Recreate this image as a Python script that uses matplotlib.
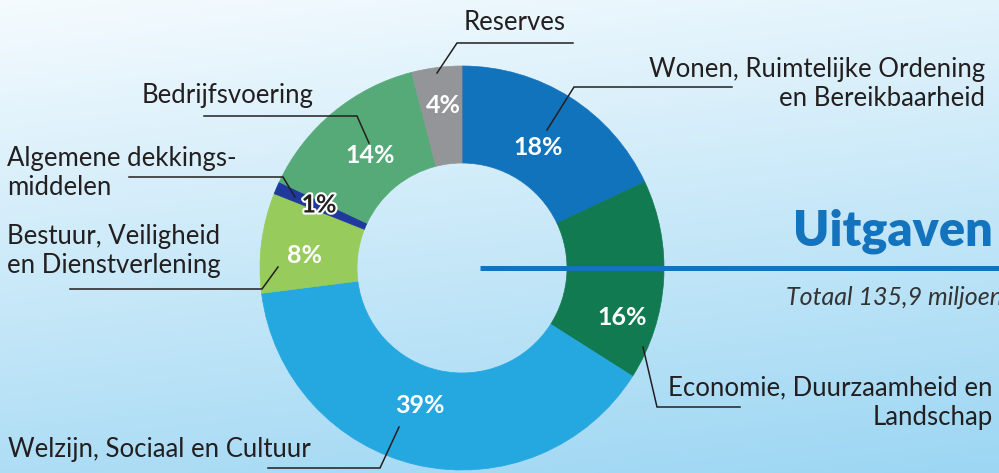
import numpy as np
import matplotlib.pyplot as plt
from matplotlib import patheffects as pe

# data
categories = ["Wonen, Ruimtelijke Ordening\nen Bereikbaarheid",
              "Economie, Duurzaamheid en\nLandschap",
              "Welzijn, Sociaal en Cultuur",
              "Bestuur, Veiligheid\nen Dienstverlening",
              "Algemene dekkings-\nmiddelen",
              "Bedrijfsvoering",
              "Reserves"]
percentages = [18, 16, 39, 8, 1, 14, 4]
colors = ["#1273bd", "#127a50", "#25a7e0", "#97cb5b", "#1f3a9c", "#56aa78", "#939598"]
title = "Uitgaven"
subtitle = "Totaal 135,9 miljoen"

# layout in pixels (origin top-left)
W, H = 999, 473
center = (462, 268)
r_out, r_in = 202, 105
pct_pos = [(538, 147), (622, 317), (420, 405), (305, 255), (319, 205), (370, 155), (443, 105)]
label_pos = [(985, 84, "right"), (993, 403, "right"), (8, 449, "left"), (7, 251, "left"),
             (7, 173, "left"), (142, 95, "left"), (515, 23, "center")]
leaders = [[(732, 87), (574, 87), (547, 130)],
           [(740, 407), (657, 407), (643, 347)],
           [(268, 468), (380, 468), (399, 427)],
           [(70, 289), (262, 289), (278, 267)],
           [(129, 177), (283, 177), (295, 197)],
           [(204, 116), (357, 116), (369, 143)],
           [(573, 43), (457, 43), (437, 73)]]

dark = "#231f20"
font = "Lato"

fig = plt.figure(figsize=(W / 100, H / 100), dpi=100)
ax = fig.add_axes([0, 0, 1, 1])

# background gradient, lighter top-left
yy, xx = np.mgrid[0:1:200j, 0:1:400j]
t = np.clip(0.8 * yy + 0.2 * xx, 0, 1)
c0 = np.array([0xf5, 0xfb, 0xfe]) / 255
c1 = np.array([0x9c, 0xd6, 0xf3]) / 255
grad = c0 + (c1 - c0) * t[..., None]
ax.imshow(grad, extent=(0, W, H, 0), aspect="auto", zorder=0, interpolation="bilinear")

# y axis is inverted, so counterclock in data = clockwise on screen, starting at top
wedges, _ = ax.pie(percentages, colors=colors, startangle=-90, counterclock=True,
                   radius=r_out, center=center,
                   wedgeprops=dict(width=r_out - r_in, linewidth=0.5))
for w, c in zip(wedges, colors):
    w.set_edgecolor(c)
    w.set_zorder(2)

for (x, y), p in zip(pct_pos, percentages):
    if p == 1:
        ax.text(x, y, f"{p}%", ha="center", va="center", fontsize=18, fontweight="bold",
                family=font, color=dark, zorder=5,
                path_effects=[pe.withStroke(linewidth=3, foreground="white")])
    else:
        ax.text(x, y, f"{p}%", ha="center", va="center", fontsize=18, fontweight="bold",
                family=font, color="white", zorder=5)

for (x, y, ha), lab in zip(label_pos, categories):
    ax.text(x, y, lab, ha=ha, va="center", fontsize=18.5, family=font, color=dark,
            linespacing=1.22, multialignment=ha, zorder=5)

for pts in leaders:
    xs, ys = zip(*pts)
    ax.plot(xs, ys, color=dark, lw=1.1, zorder=4, solid_joinstyle="miter")

ax.plot([480, W], [268, 268], color="#1473bd", lw=3.6, zorder=4, solid_capstyle="butt")
ax.text(793, 231, title, ha="left", va="center", fontsize=35, fontweight="heavy",
        family=font, color="#1473bd", zorder=5)
ax.text(786, 297, subtitle, ha="left", va="center", fontsize=18, style="italic",
        family=font, color="#333333", zorder=5)

ax.set_xlim(0, W)
ax.set_ylim(H, 0)
ax.set_aspect("auto")
ax.axis("off")

fig.savefig("out.png", dpi=100)
